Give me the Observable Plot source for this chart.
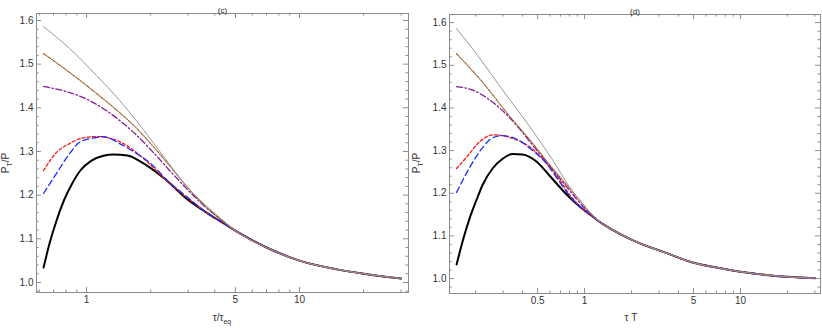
<!DOCTYPE html>
<html><head><meta charset="utf-8">
<script src="https://cdn.jsdelivr.net/npm/d3@7"></script>
<script src="https://cdn.jsdelivr.net/npm/@observablehq/plot@0.6"></script>
<style>
body{margin:0;background:#fff;}
#wrap{display:flex;width:822px;height:328px;}
</style></head><body><div id="wrap"></div>
<script>
// ---------- panel (c): x = tau/tau_eq ----------
const cTail = [[7,1.080],[10,1.050],[15,1.030],[20,1.020],[30,1.009]];
const cGray = [[0.628,1.586],[0.832,1.536],[1.114,1.474],[1.429,1.417],[1.716,1.370],[2.297,1.289],[2.946,1.221],[3.543,1.181],[4.254,1.147],[5.06,1.117]];
const cBrown = [[0.628,1.524],[0.723,1.503],[0.832,1.481],[1.0,1.451],[1.2,1.420],[1.43,1.389],[1.72,1.353],[2.06,1.311],[2.45,1.268],[2.95,1.220],[3.54,1.179],[4.25,1.145],[5.06,1.117]];
const cPurple = [[0.628,1.449],[0.832,1.435],[1.0,1.420],[1.2,1.398],[1.43,1.371],[1.72,1.337],[2.02,1.302],[2.45,1.257],[2.95,1.215],[3.54,1.177],[4.25,1.145],[5.06,1.117]];
const cRed = [[0.628,1.256],[0.723,1.298],[0.832,1.318],[0.937,1.330],[1.114,1.334],[1.296,1.330],[1.491,1.318],[1.852,1.284],[2.45,1.227],[2.95,1.195],[3.66,1.160],[4.25,1.140],[5.06,1.117]];
const cBlue = [[0.628,1.204],[0.723,1.250],[0.832,1.295],[0.927,1.321],[1.114,1.332],[1.2,1.334],[1.43,1.318],[1.72,1.295],[1.995,1.273],[2.45,1.229],[2.95,1.197],[3.66,1.160],[4.25,1.140],[5.06,1.117]];
const cBlack = [[0.628,1.034],[0.670,1.089],[0.723,1.142],[0.780,1.186],[0.850,1.224],[0.937,1.257],[1.055,1.279],[1.2,1.290],[1.339,1.293],[1.557,1.291],[1.792,1.277],[2.297,1.240],[2.95,1.192],[3.66,1.160],[4.25,1.140],[5.06,1.117]];

// ---------- panel (d): x = tau T ----------
const dTail = [[1.27,1.131],[1.5,1.115],[2.06,1.089],[3.4,1.059],[5,1.037],[7,1.026],[10,1.016],[15,1.008],[20,1.004],[30,1.001]];
const dGray = [[0.151,1.586],[0.206,1.523],[0.294,1.445],[0.425,1.366],[0.614,1.282],[0.838,1.204],[1.077,1.157]];
const dBrown = [[0.151,1.527],[0.222,1.460],[0.331,1.380],[0.464,1.317],[0.563,1.278],[0.702,1.236],[0.876,1.195],[1.093,1.153]];
const dPurple = [[0.151,1.450],[0.194,1.441],[0.250,1.417],[0.321,1.382],[0.389,1.348],[0.464,1.313],[0.530,1.287],[0.681,1.238],[0.838,1.198],[1.030,1.160]];
const dRed = [[0.151,1.258],[0.183,1.293],[0.206,1.316],[0.261,1.337],[0.335,1.330],[0.431,1.312],[0.522,1.286],[0.652,1.244],[0.813,1.194],[0.971,1.163],[1.125,1.145]];
const dBlue = [[0.151,1.202],[0.183,1.260],[0.222,1.307],[0.257,1.330],[0.298,1.335],[0.383,1.323],[0.464,1.300],[0.563,1.272],[0.681,1.230],[0.838,1.185],[1.0,1.160],[1.159,1.142]];
const dBlack = [[0.151,1.033],[0.165,1.087],[0.183,1.141],[0.203,1.185],[0.222,1.220],[0.257,1.258],[0.298,1.281],[0.346,1.292],[0.400,1.291],[0.493,1.274],[0.597,1.241],[0.767,1.197],[0.971,1.163],[1.159,1.142]];

// ---------- ticks ----------
const yMajor = [1.0,1.1,1.2,1.3,1.4,1.5,1.6];
const yMinor = [0.98,1.02,1.04,1.06,1.08,1.12,1.14,1.16,1.18,1.22,1.24,1.26,1.28,1.32,1.34,1.36,1.38,1.42,1.44,1.46,1.48,1.52,1.54,1.56,1.58];
const cXMajor = [1,5,10];
const cXMinor = [0.6,0.7,0.8,0.9,2,3,4,6,7,8,9,20,30];
const dXMajor = [0.5,1,5,10];
const dXMinor = [0.2,0.3,0.4,0.6,0.7,0.8,0.9,2,3,4,6,7,8,9,20,30];

// drawing order: black underneath, others on top
const styles = [
  {key:"black", stroke:"#000000", width:2.0, dash:null},
  {key:"red", stroke:"#ff1a1a", width:1.3, dash:"3,2.2"},
  {key:"blue", stroke:"#1a2cff", width:1.3, dash:"6,3.5"},
  {key:"purple", stroke:"#8a1a9a", width:1.3, dash:"6,2.5,1.5,2.5"},
  {key:"brown", stroke:"#9c6430", width:1.2, dash:"2.4,1.4,0.8,1.4"},
  {key:"gray", stroke:"#999999", width:1.0, dash:null}
];

const W = 411, H = 328;
const FRAME = "#8c8c8c";
const FONT = "'Liberation Sans', Arial, sans-serif";

function panel(cfg) {
  const {curves, tail, xDomain, yDomain, m, xMajor, xMinor, title} = cfg;
  const fh = H - m.top - m.bottom, fw = W - m.left - m.right;
  const TK = 5, tk = 2.6;
  const marks = [
    Plot.tickX(xMajor, {x: d => d, insetTop: fh - TK, stroke: FRAME}),
    Plot.tickX(xMajor, {x: d => d, insetBottom: fh - TK, stroke: FRAME}),
    Plot.tickX(xMinor, {x: d => d, insetTop: fh - tk, stroke: FRAME}),
    Plot.tickX(xMinor, {x: d => d, insetBottom: fh - tk, stroke: FRAME}),
    Plot.tickY(yMajor, {y: d => d, insetRight: fw - TK, stroke: FRAME}),
    Plot.tickY(yMajor, {y: d => d, insetLeft: fw - TK, stroke: FRAME}),
    Plot.tickY(yMinor, {y: d => d, insetRight: fw - tk, stroke: FRAME}),
    Plot.tickY(yMinor, {y: d => d, insetLeft: fw - tk, stroke: FRAME}),
    Plot.text(xMajor, {x: d => d, text: d => String(d), frameAnchor: "bottom", dy: 10, fontSize: 10, fill: "#333"}),
    Plot.text(yMajor, {y: d => d, text: d => d.toFixed(1), frameAnchor: "left", dx: -3, textAnchor: "end", fontSize: 10, fill: "#333"})
  ];
  for (const s of styles) {
    const pts = curves[s.key].concat(tail);
    marks.push(Plot.line(pts, {x: d => d[0], y: d => d[1], stroke: s.stroke, strokeWidth: s.width,
      strokeDasharray: s.dash || undefined, curve: "monotone-x"}));
  }
  marks.push(Plot.frame({stroke: FRAME, strokeWidth: 1}));
  marks.push(Plot.text([title], {frameAnchor: "top", dy: -6, fontSize: 8, fill: "#222"}));
  return Plot.plot({
    width: W, height: H,
    marginLeft: m.left, marginRight: m.right, marginTop: m.top, marginBottom: m.bottom,
    x: {type: "log", domain: xDomain, axis: null},
    y: {domain: yDomain, axis: null},
    style: {fontFamily: FONT, background: "#fff", overflow: "visible"},
    marks
  });
}

const wrap = document.getElementById("wrap");

const pc = panel({
  curves: {gray: cGray, brown: cBrown, purple: cPurple, red: cRed, blue: cBlue, black: cBlack},
  tail: cTail, xDomain: [0.582, 32.5], yDomain: [0.977, 1.616],
  m: {left: 36, right: 3, top: 13, bottom: 36},
  xMajor: cXMajor, xMinor: cXMinor, title: "(c)"
});
const pd = panel({
  curves: {gray: dGray, brown: dBrown, purple: dPurple, red: dRed, blue: dBlue, black: dBlack},
  tail: dTail, xDomain: [0.136, 32.6], yDomain: [0.965, 1.619],
  m: {left: 38, right: 2, top: 14, bottom: 35},
  xMajor: dXMajor, xMinor: dXMinor, title: "(d)"
});
wrap.appendChild(pc);
wrap.appendChild(pd);

function addLabels(svg, xl, cx) {
  const s = d3.select(svg);
  const yl = s.append("text").attr("transform", "translate(9,163) rotate(-90)")
    .attr("text-anchor", "middle").attr("font-size", 10).attr("fill", "#333").attr("font-family", FONT);
  yl.append("tspan").text("P");
  yl.append("tspan").attr("font-size", 7).attr("dy", 2.5).text("T");
  yl.append("tspan").attr("dy", -2.5).text("/P");
  const t = s.append("text").attr("x", cx).attr("y", 321).attr("text-anchor", "middle")
    .attr("font-size", 10).attr("fill", "#333").attr("font-family", FONT);
  xl(t);
}
addLabels(pc, t => {
  t.append("tspan").text("τ/τ");
  t.append("tspan").attr("font-size", 7).attr("dy", 2.5).text("eq");
}, 222);
addLabels(pd, t => { t.append("tspan").text("τ T"); }, 220);
</script></body></html>
